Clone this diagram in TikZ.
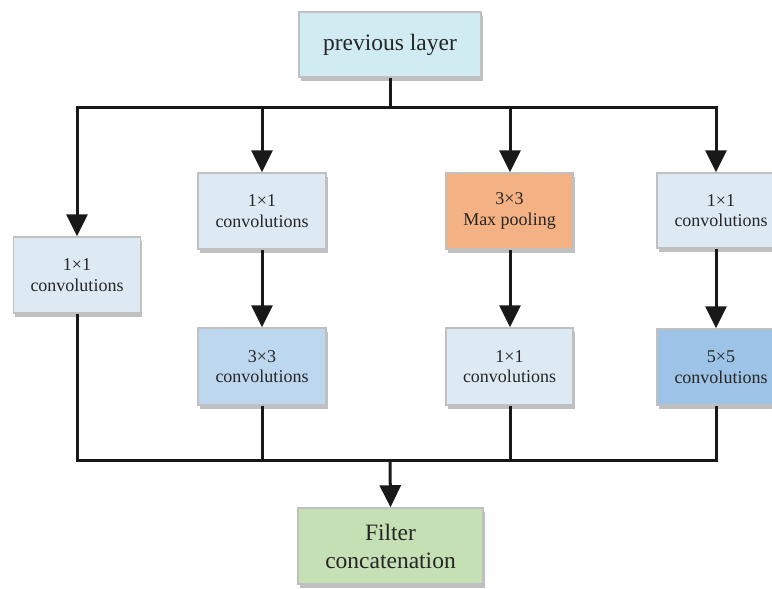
\documentclass[tikz,border=0pt]{standalone}
\usepackage{fontspec}
\setmainfont{Liberation Serif}
\usetikzlibrary{arrows.meta,shadows}
\definecolor{prevc}{HTML}{D0EBF2}
\definecolor{lightb}{HTML}{DDEAF4}
\definecolor{midb}{HTML}{BDD7EE}
\definecolor{darkb}{HTML}{9DC3E6}
\definecolor{poolc}{HTML}{F4B183}
\definecolor{concc}{HTML}{C5E0B4}
\definecolor{edgec}{HTML}{C0C0C0}
\tikzset{
  box/.style={draw=edgec, line width=1.5pt, align=center, inner sep=0pt,
    drop shadow={shadow xshift=1.5pt, shadow yshift=-4pt, opacity=0.45, fill=black!55},
    font=\fontsize{18}{20.5}\selectfont, text=black!85},
  wire/.style={line width=3pt, black!90},
  arr/.style={wire, -{Triangle[width=21pt,length=22pt]}}
}
\begin{document}
\begin{tikzpicture}[x=1pt,y=-1pt]
\useasboundingbox (0,0) rectangle (772,589);
\begin{scope}
\clip (0,0) rectangle (772,589);
\node[box, fill=prevc, minimum width=182pt, minimum height=65pt, font=\fontsize{23.5}{27}\selectfont] (prev) at (390,44.5) {previous layer};
\node[box, fill=lightb, minimum width=127pt, minimum height=76pt] (a1) at (77,275) {1×1\\convolutions};
\node[box, fill=lightb, minimum width=128pt, minimum height=76pt] (b1) at (262,211) {1×1\\convolutions};
\node[box, fill=midb, minimum width=128pt, minimum height=77pt] (b2) at (262,366.5) {3×3\\convolutions};
\node[box, fill=poolc, minimum width=127pt, minimum height=76pt] (c1) at (509.5,211) {3×3\\Max pooling};
\node[box, fill=lightb, minimum width=127pt, minimum height=77pt] (c2) at (509.5,366.5) {1×1\\convolutions};
\node[box, fill=lightb, minimum width=128pt, minimum height=75pt] (d1) at (721,210.5) {1×1\\convolutions};
\node[box, fill=darkb, minimum width=128pt, minimum height=76pt] (d2) at (721,367) {5×5\\convolutions};
\node[box, fill=concc, minimum width=185pt, minimum height=76pt, font=\fontsize{23.5}{28}\selectfont] (conc) at (390.5,546) {Filter\\concatenation};
% top bus
\coordinate (tb) at (390,107);
\coordinate (tl) at (77,107);
\coordinate (t2) at (262,107);
\coordinate (t3) at (510,107);
\coordinate (tr) at (716,107);
\draw[wire] (prev.south) -- (tb);
\draw[wire] ([xshift=-1.5pt]tl) -- ([xshift=1.5pt]tr);
\draw[arr] (tl) -- (tl |- a1.north);
\draw[arr] (t2) -- (t2 |- b1.north);
\draw[arr] (t3) -- (t3 |- c1.north);
\draw[arr] (tr) -- (tr |- d1.north);
% inner arrows
\draw[arr] (b1.south) -- (b2.north);
\draw[arr] (t3 |- c1.south) -- (t3 |- c2.north);
\draw[arr] (tr |- d1.south) -- (tr |- d2.north);
% bottom bus
\coordinate (bb) at (390,460);
\coordinate (bl) at (77,460);
\coordinate (b2c) at (262,460);
\coordinate (b3c) at (510,460);
\coordinate (br) at (716,460);
\draw[wire] (tl |- a1.south) -- (bl);
\draw[wire] (b2.south) -- (b2c);
\draw[wire] (t3 |- c2.south) -- (b3c);
\draw[wire] (tr |- d2.south) -- (br);
\draw[wire] ([xshift=-1.5pt]bl) -- ([xshift=1.5pt]br);
\draw[arr] (bb) -- (conc.north);
\end{scope}
\end{tikzpicture}
\end{document}
